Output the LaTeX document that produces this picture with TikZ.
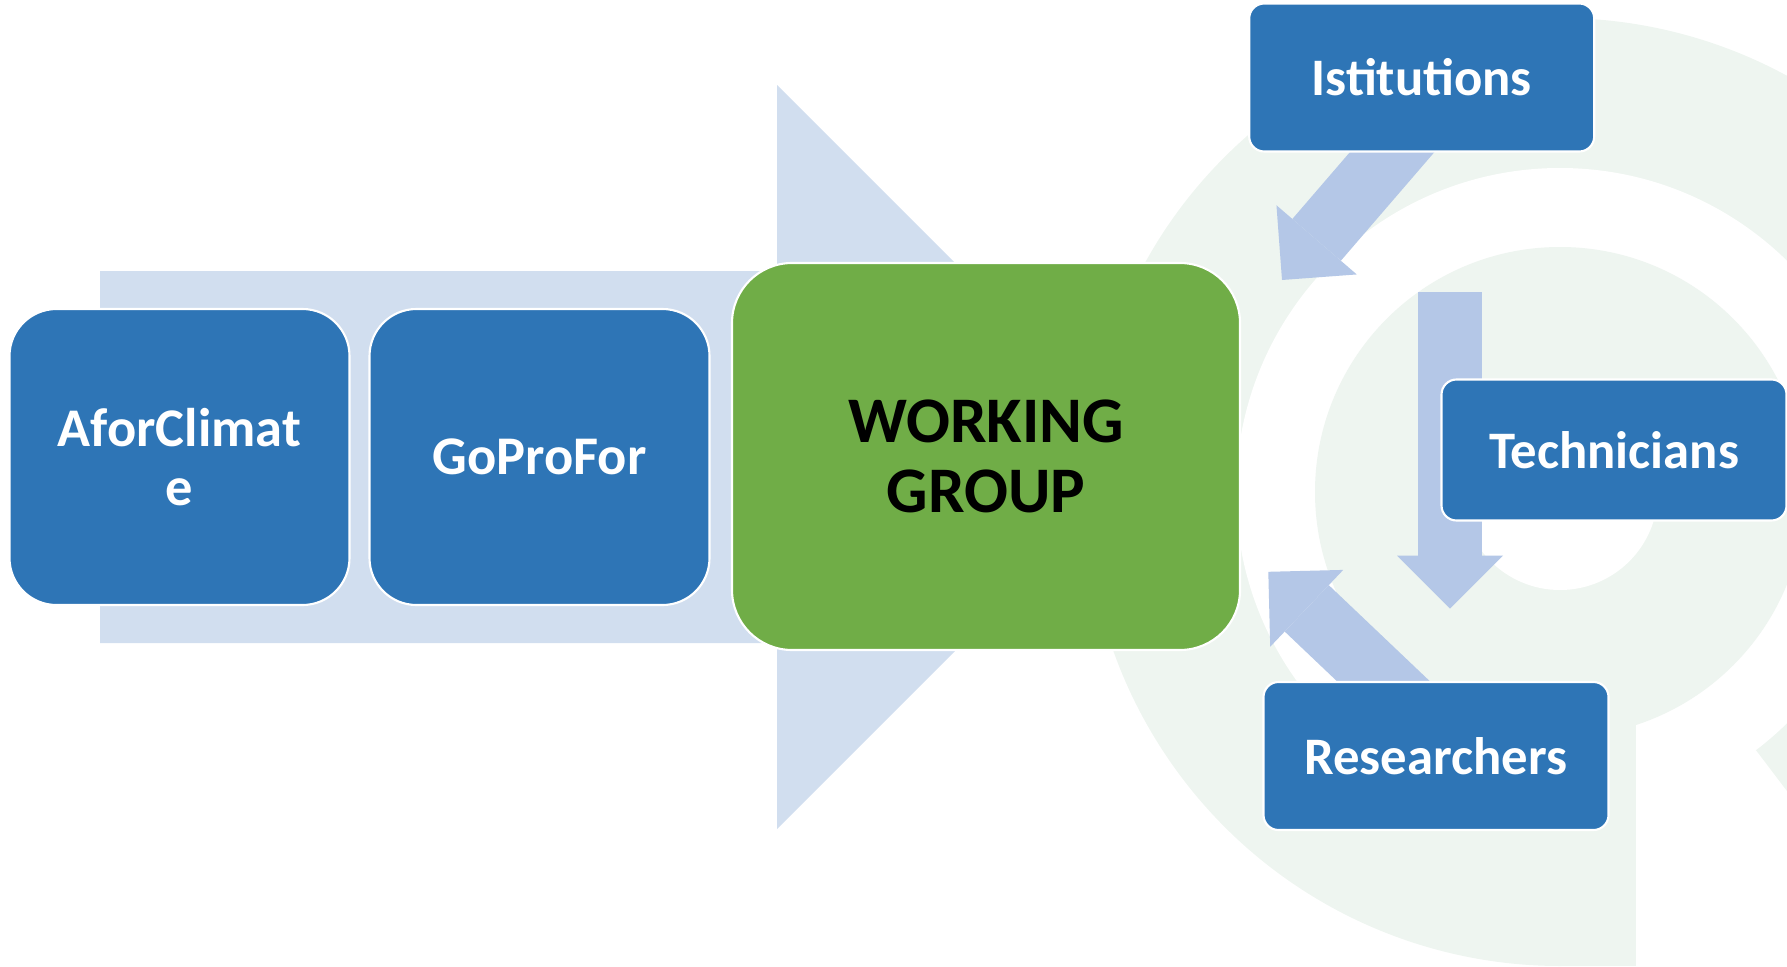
\documentclass[tikz,border=0pt]{standalone}
\usepackage{fontspec}
\setmainfont{Carlito}
\usepackage{tikz}
\usetikzlibrary{arrows.meta}
\definecolor{boxblue}{RGB}{46,117,182}
\definecolor{wggreen}{RGB}{112,173,71}
\definecolor{bigblue}{RGB}{209,222,239}
\definecolor{flowblue}{RGB}{180,199,231}
\definecolor{logogreen}{RGB}{238,245,240}
\pgfdeclarelayer{background}
\pgfsetlayers{background,main}
\tikzset{
box/.style={draw=white, line width=.6pt, align=center, inner sep=0pt}, % white rim round every box
partner/.style={box, fill=boxblue, text=white, minimum width=3.4cm, minimum height=2.96cm, rounded corners=.47cm, font=\fontsize{15.5}{17}\selectfont\bfseries}, % the two projects
actor/.style={box, fill=boxblue, text=white, minimum width=3.45cm, minimum height=1.48cm, rounded corners=.15cm, font=\fontsize{15}{18}\selectfont\bfseries}, % the cycle on the right
flow/.style={draw=flowblue, line width=.64cm, -{Triangle[width=1.06cm,length=.53cm,line width=0pt]}}, % wide block arrows
}
\begin{document}
\begin{tikzpicture}
        \useasboundingbox (0,0) rectangle (17.87,9.66);
        \node[partner] at (1.795,5.09) (afc) {AforClimat\\e};
        \node[partner] at (5.395,5.09) (gpf) {GoProFor};
        \node[box, fill=wggreen, minimum width=5.08cm, minimum height=3.87cm, rounded corners=.6cm, font=\fontsize{18.5}{20}\selectfont\bfseries] at (9.86,5.095) (wg) {WORKING\\GROUP};
        \node[actor] at (14.217,8.885) (ist) {Istitutions};
        \node[actor, minimum height=1.41cm] at (16.14,5.16) (tec) {Technicians};
        \node[actor] at (14.36,2.10) (res) {Researchers};
        \coordinate (t1) at (12.82,6.86);
        \coordinate (d1) at (14.5,6.74);
        \coordinate (t2) at (14.5,3.574);
        \coordinate (t3) at (12.683,3.942);
        \begin{pgfonlayer}{background}
        % logo behind the cycle
        \coordinate (c) at (15.6,4.74);
        \fill[logogreen] (c) -- ++(-52.8:4.74) arc[start angle=-52.8, end angle=279.2, radius=4.74] -- cycle;
        \fill[white] (c) circle (3.24);
        \fill[logogreen] (c) circle (2.45);
        \fill[white] (c) circle (.98);
        \fill[logogreen] (15.55,0) rectangle (16.36,3.16);
        % big arrow
        \fill[bigblue] (1,6.95) -- (7.77,6.95) -- (7.77,8.81) -- (11.49,5.09) -- (7.77,1.37) -- (7.77,3.23) -- (1,3.23) -- cycle;
        \draw[flow] ([shift={(.02,-.38)}]ist.center) -- (t1);
        \draw[flow] (d1) -- (t2);
        \draw[flow] ([shift={(-.16,.4)}]res.center) -- (t3);
        \end{pgfonlayer}
    \end{tikzpicture}
\end{document}
